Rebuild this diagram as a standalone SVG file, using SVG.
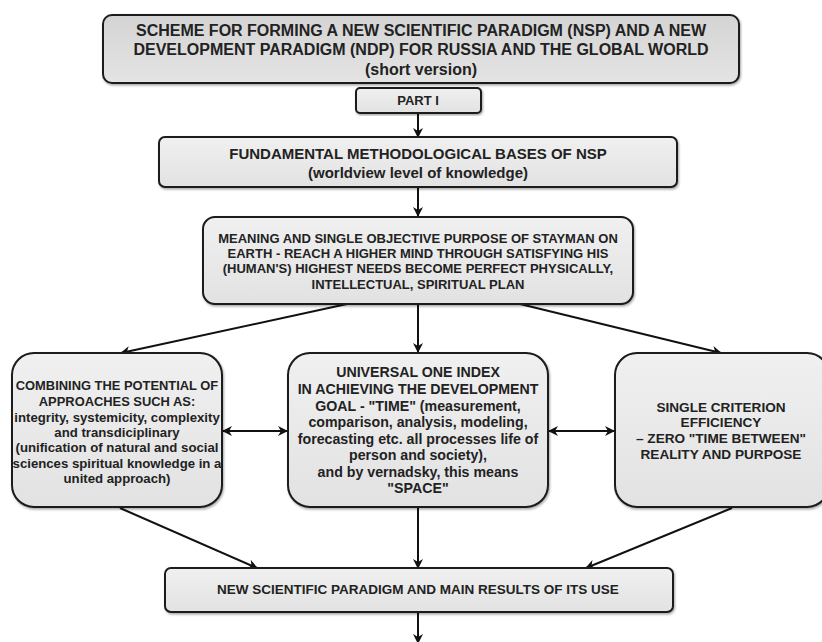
<svg xmlns="http://www.w3.org/2000/svg" width="822" height="642" viewBox="0 0 822 642">
<style>
.box{fill:url(#g);stroke:#1a1a1a;stroke-width:2;filter:url(#sh)}
.title{fill:url(#gt);stroke:#1a1a1a;stroke-width:2;filter:url(#sh)}
text{font-family:"Liberation Sans",Arial,sans-serif;font-weight:bold;fill:#222;text-anchor:middle;dominant-baseline:central}
.conn line{stroke:#111;stroke-width:2}
</style>
<defs>
<linearGradient id="g" x1="0" y1="0" x2="0" y2="1"><stop offset="0" stop-color="#f0f0f0"/><stop offset="1" stop-color="#e2e2e2"/></linearGradient>
<linearGradient id="gt" x1="0" y1="0" x2="0" y2="1"><stop offset="0" stop-color="#d4d4d4"/><stop offset="1" stop-color="#e4e4e4"/></linearGradient>
<filter id="sh" x="-5%" y="-5%" width="110%" height="115%"><feDropShadow dx="1" dy="1.5" stdDeviation="1" flood-color="#000" flood-opacity="0.35"/></filter>
<marker id="ah" viewBox="0 0 10 10" refX="9" refY="5" markerWidth="10" markerHeight="10" markerUnits="userSpaceOnUse" orient="auto-start-reverse"><path d="M0,0 L10,5 L0,10 L3,5 z" fill="#111"/></marker>
</defs>

<g class="conn">
<line x1="418" y1="113" x2="418" y2="137" marker-end="url(#ah)"/>
<line x1="418" y1="188" x2="418" y2="216" marker-end="url(#ah)"/>
<line x1="347" y1="304" x2="121" y2="353" marker-end="url(#ah)"/>
<line x1="418" y1="305" x2="418" y2="352" marker-end="url(#ah)"/>
<line x1="520" y1="304" x2="721" y2="353" marker-end="url(#ah)"/>
<line x1="223" y1="431" x2="287" y2="431" marker-start="url(#ah)" marker-end="url(#ah)"/>
<line x1="549" y1="431" x2="614" y2="431" marker-start="url(#ah)" marker-end="url(#ah)"/>
<line x1="120" y1="508" x2="257" y2="568" marker-end="url(#ah)"/>
<line x1="418" y1="508" x2="418" y2="568" marker-end="url(#ah)"/>
<line x1="732" y1="508" x2="586" y2="568" marker-end="url(#ah)"/>
<line x1="418" y1="613" x2="418" y2="643" marker-end="url(#ah)"/>
</g>

<g id="title">
<rect class="title" x="103" y="15" width="636" height="68" rx="9"/>
<text x="421" y="30" font-size="16">SCHEME FOR FORMING A NEW SCIENTIFIC PARADIGM (NSP) AND A NEW</text>
<text x="421" y="49" font-size="16">DEVELOPMENT PARADIGM (NDP) FOR RUSSIA AND THE GLOBAL WORLD</text>
<text x="421" y="69" font-size="16">(short version)</text>
</g>

<g id="part1">
<rect class="box" x="356" y="88" width="125" height="25" rx="4"/>
<text x="418" y="100" font-size="13">PART I</text>
</g>

<g id="fundamental">
<rect class="box" x="159" y="137" width="518" height="50" rx="6"/>
<text x="418" y="153" font-size="15">FUNDAMENTAL METHODOLOGICAL BASES OF NSP</text>
<text x="418" y="172" font-size="15">(worldview level of knowledge)</text>
</g>

<g id="meaning">
<rect class="box" x="203" y="217" width="430" height="87" rx="12"/>
<text x="418" y="238" font-size="13">MEANING AND SINGLE OBJECTIVE PURPOSE OF STAYMAN ON</text>
<text x="418" y="253" font-size="13">EARTH - REACH A HIGHER MIND THROUGH SATISFYING HIS</text>
<text x="418" y="268" font-size="13">(HUMAN'S) HIGHEST NEEDS BECOME PERFECT PHYSICALLY,</text>
<text x="418" y="284" font-size="13">INTELLECTUAL, SPIRITUAL PLAN</text>
</g>

<g id="combining">
<rect class="box" x="12" y="353" width="210" height="154" rx="22"/>
<text x="117" y="385" font-size="12.9">COMBINING THE POTENTIAL OF</text>
<text x="117" y="401" font-size="12.9">APPROACHES SUCH AS:</text>
<text x="117" y="417" font-size="13.2">integrity, systemicity, complexity</text>
<text x="117" y="432" font-size="13.2">and transdiciplinary</text>
<text x="117" y="447" font-size="13.2">(unification of natural and social</text>
<text x="117" y="463" font-size="13.2">sciences spiritual knowledge in a</text>
<text x="117" y="478" font-size="13.2">united approach)</text>
</g>

<g id="universal">
<rect class="box" x="288" y="353" width="260" height="154" rx="22"/>
<text x="418" y="372" font-size="14.2">UNIVERSAL ONE INDEX</text>
<text x="418" y="389" font-size="14.2">IN ACHIEVING THE DEVELOPMENT</text>
<text x="418" y="406" font-size="14.2">GOAL - "TIME" (measurement,</text>
<text x="418" y="422" font-size="14.2">comparison, analysis, modeling,</text>
<text x="418" y="439" font-size="14.2">forecasting etc. all processes life of</text>
<text x="418" y="455" font-size="14.2">person and society),</text>
<text x="418" y="472" font-size="14.2">and by vernadsky, this means</text>
<text x="418" y="488" font-size="14.2">"SPACE"</text>
</g>

<g id="criterion">
<rect class="box" x="615" y="353" width="214" height="154" rx="22"/>
<text x="721" y="407" font-size="13.6">SINGLE CRITERION</text>
<text x="721" y="422" font-size="13.6">EFFICIENCY</text>
<text x="721" y="438" font-size="13.6">– ZERO "TIME BETWEEN"</text>
<text x="721" y="454" font-size="13.6">REALITY AND PURPOSE</text>
</g>

<g id="newparadigm">
<rect class="box" x="165" y="568" width="508" height="44" rx="6"/>
<text x="418" y="589" font-size="13.5">NEW SCIENTIFIC PARADIGM AND MAIN RESULTS OF ITS USE</text>
</g>
</svg>
